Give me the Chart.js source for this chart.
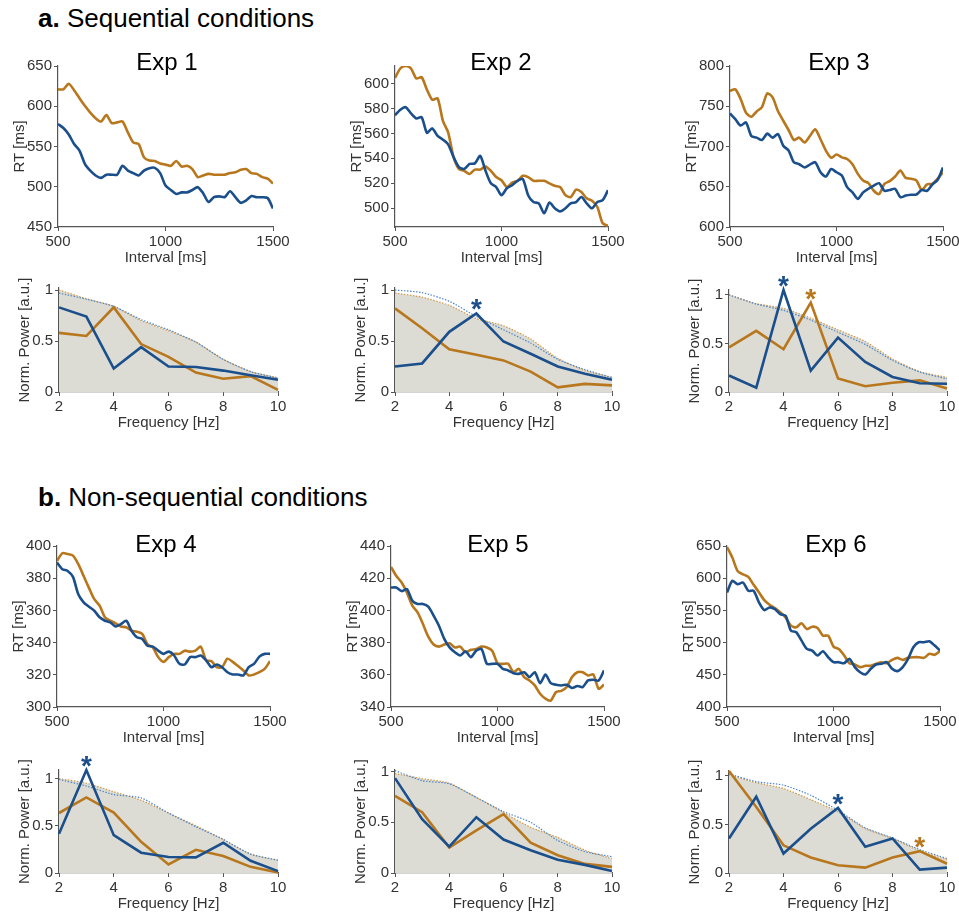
<!DOCTYPE html>
<html>
<head>
<meta charset="utf-8">
<script src="https://cdn.jsdelivr.net/npm/chart.js@4.4.0/dist/chart.umd.min.js"></script>
<style>
  body { margin: 0; background: #fff; width: 959px; height: 917px; position: relative; overflow: hidden;
         font-family: "Liberation Sans", Arial, Helvetica, sans-serif; color: #000; }
  .head { position: absolute; font-size: 26px; line-height: 32px; white-space: nowrap; }
  .exp { position: absolute; font-size: 24px; line-height: 1; transform: translate(-50%, -50%); white-space: nowrap; }
  canvas { position: absolute; }
</style>
</head>
<body>
<div class="head" style="left:38px;top:2px"><b>a.</b> Sequential conditions</div>
<div class="head" style="left:38px;top:481px"><b>b.</b> Non-sequential conditions</div>

<script>
// ---- data ----
const intervalMs = [500, 525, 550, 575, 600, 625, 650, 675, 700, 725, 750, 775, 800, 825, 850, 875, 900, 925, 950, 975,
  1000, 1025, 1050, 1075, 1100, 1125, 1150, 1175, 1200, 1225, 1250, 1275, 1300, 1325, 1350, 1375, 1400, 1425, 1450, 1475, 1500];
const freqHz = [2, 3, 4, 5, 6, 7, 8, 9, 10];

const expNames = ["Exp 1", "Exp 2", "Exp 3", "Exp 4", "Exp 5", "Exp 6"];

// RT curves (ms)
const exp1Blue = [578, 573, 565, 553, 545, 528.5, 520, 514, 511, 515, 515, 515, 526, 520, 517, 514, 520, 523, 523.5, 517,
  501.5, 496, 491, 493, 493, 496, 499.5, 492, 481, 487, 488, 487, 494.5, 487, 480, 483, 488.5, 487, 487, 486, 473];
const exp1Orange = [621, 621, 628, 620, 610, 600.5, 592, 585, 581, 589, 579, 580, 581, 567.5, 555, 553, 536.5, 532.5, 532, 529,
  527.5, 526, 532, 525, 526, 522, 512, 514, 516, 515, 515, 515, 517, 518, 521, 522, 517, 516, 512, 510, 504];
const exp2Blue = [574.5, 579, 581, 576, 572, 573, 560.5, 564, 558, 555, 551, 541, 533, 531.5, 535.5, 536, 542, 530, 520, 517,
  510.5, 516, 518.5, 522, 523.5, 510.5, 505, 504, 496, 504.5, 500, 497.5, 500, 504, 505, 509, 504, 500, 505, 506.5, 514.5];
const exp2Orange = [604.5, 612, 614, 612, 604, 605, 595, 587, 588, 570, 560.5, 541, 531.5, 530, 527.5, 531, 531, 533.5, 530, 525,
  522.4, 517, 520.5, 522, 526, 525, 522, 522, 522, 520, 518, 517, 510.5, 509, 515, 513, 508, 506, 501, 488, 486];
const exp3Blue = [741, 734, 726, 730, 713, 711, 708, 716, 711, 715.5, 701, 695, 680.4, 678, 674, 677.5, 680.5, 668, 662.7, 672,
  668, 664, 649.5, 643, 635, 643, 647.5, 651.5, 654.4, 645, 646, 647.5, 637, 639, 640, 640.4, 646, 645, 652.8, 658.7, 674];
const exp3Orange = [769, 771, 759, 742, 737, 743.5, 749, 766, 761, 744, 732, 720.5, 708, 711, 705, 713, 721.5, 709, 695, 686,
  690, 686.5, 684.5, 678, 666, 657.7, 654.5, 645, 641, 653.5, 657, 662.7, 670, 661, 660, 658, 646, 653, 653.6, 660, 668];
const exp4Blue = [389.7, 385.6, 384.5, 380.8, 370, 365, 362.3, 359.8, 355.7, 353.6, 352.6, 350, 351.5, 353.6, 347.4, 343.3, 342.3, 338, 337.5, 335,
  333, 334.4, 332, 326.8, 326.4, 331, 331, 332, 329, 324.7, 326.4, 324.7, 321.6, 320.2, 320.2, 319.6, 324.7, 326.8, 331.3, 333, 333];
const exp4Orange = [390.7, 395.5, 395, 394, 388.7, 381.4, 374, 367, 363, 355.7, 353.6, 352, 350, 349.5, 347.4, 346.8, 345.4, 339, 337, 331,
  328, 331, 333, 333, 335, 334.4, 335, 337.5, 329, 328.5, 324.7, 324.7, 330, 328, 325.4, 322.7, 319.6, 320.2, 321.6, 323.7, 328.5];
const exp5Blue = [414.2, 414.2, 412, 413.2, 406, 404, 404, 402.3, 396.8, 390.5, 382.3, 377, 374, 372, 374.6, 371, 375, 376, 366.8, 366.8,
  366.8, 363.7, 362.7, 361, 360.6, 361.6, 358.6, 361.6, 354.8, 360.2, 354.8, 353.8, 353.4, 353.8, 351.8, 353, 352.4, 356.5, 356.9, 356.5, 362.7];
const exp5Orange = [427, 421.4, 417.3, 411, 403, 398.8, 391.5, 383.7, 378.8, 377.5, 378.8, 379.6, 377, 377.5, 374, 375.5, 376, 377.5, 377, 375,
  367.2, 366.8, 366.8, 361.6, 363.7, 358.6, 356.5, 353.4, 348.2, 345.2, 344, 349.3, 350, 352.4, 358.6, 361.6, 361.6, 359.6, 360.2, 351.3, 354];
const exp6Blue = [577.8, 595.9, 590.7, 593.3, 580.4, 580.4, 562.4, 550.5, 554.6, 552, 544.3, 541.8, 518.6, 516, 503, 490.2, 487.6, 480, 486.6, 477.3,
  469.6, 469.6, 468, 474.7, 461.9, 454, 450.5, 459.3, 466, 467, 469.6, 459.3, 455.7, 461.9, 474.7, 492.8, 500.5, 500.5, 502, 495.4, 487.6];
const exp6Orange = [648.5, 632, 611, 606, 602, 589.7, 578, 566, 558.8, 553.6, 547, 539, 526.3, 523.7, 530, 521, 524.7, 522.7, 510.8, 510.8,
  493.8, 490, 480, 468, 466, 461.9, 464, 464, 467, 469.6, 468, 473.2, 476.3, 473.2, 476.3, 477.3, 477.3, 476.3, 482.5, 481, 486.6];

// normalised power spectra and surrogate thresholds (a.u.)
const exp1PowBlue = [0.83, 0.74, 0.23, 0.44, 0.25, 0.245, 0.21, 0.165, 0.12];
const exp1PowOrange = [0.58, 0.55, 0.83, 0.47, 0.345, 0.19, 0.13, 0.155, 0.02];
const exp1ThrBlue = [0.97, 0.91, 0.84, 0.71, 0.61, 0.49, 0.32, 0.2, 0.135];
const exp1ThrOrange = [1.0, 0.915, 0.84, 0.70, 0.60, 0.49, 0.32, 0.2, 0.14];

const exp2PowBlue = [0.25, 0.28, 0.59, 0.77, 0.495, 0.375, 0.25, 0.18, 0.12];
const exp2PowOrange = [0.82, 0.625, 0.42, 0.365, 0.31, 0.2, 0.045, 0.08, 0.065];
const exp2ThrBlue = [1.0, 0.975, 0.89, 0.74, 0.61, 0.48, 0.32, 0.22, 0.14];
const exp2ThrOrange = [0.97, 0.93, 0.85, 0.72, 0.65, 0.52, 0.33, 0.21, 0.145];

const exp3PowBlue = [0.17, 0.045, 1.05, 0.22, 0.56, 0.31, 0.155, 0.09, 0.085];
const exp3PowOrange = [0.46, 0.63, 0.44, 0.92, 0.14, 0.06, 0.095, 0.12, 0.035];
const exp3ThrBlue = [1.0, 0.905, 0.84, 0.74, 0.615, 0.49, 0.325, 0.205, 0.135];
const exp3ThrOrange = [1.0, 0.91, 0.86, 0.76, 0.64, 0.52, 0.34, 0.21, 0.15];

const exp4PowBlue = [0.415, 1.09, 0.40, 0.215, 0.17, 0.165, 0.32, 0.13, 0.02];
const exp4PowOrange = [0.635, 0.8, 0.64, 0.33, 0.09, 0.245, 0.18, 0.065, 0.005];
const exp4ThrBlue = [0.99, 0.92, 0.83, 0.795, 0.635, 0.49, 0.355, 0.2, 0.135];
const exp4ThrOrange = [1.0, 0.95, 0.86, 0.77, 0.635, 0.5, 0.355, 0.2, 0.135];

const exp5PowBlue = [0.935, 0.53, 0.26, 0.55, 0.33, 0.225, 0.13, 0.08, 0.02];
const exp5PowOrange = [0.76, 0.6, 0.25, 0.42, 0.58, 0.3, 0.175, 0.09, 0.06];
const exp5ThrBlue = [1.01, 0.91, 0.88, 0.745, 0.605, 0.5, 0.32, 0.21, 0.16];
const exp5ThrOrange = [0.98, 0.93, 0.885, 0.745, 0.595, 0.45, 0.35, 0.225, 0.14];

const exp6PowBlue = [0.355, 0.785, 0.2, 0.455, 0.67, 0.27, 0.355, 0.035, 0.055];
const exp6PowOrange = [1.05, 0.68, 0.285, 0.16, 0.08, 0.055, 0.16, 0.225, 0.095];
const exp6ThrBlue = [1.02, 0.94, 0.905, 0.8, 0.645, 0.465, 0.36, 0.24, 0.148];
const exp6ThrOrange = [1.01, 0.93, 0.87, 0.755, 0.63, 0.457, 0.355, 0.227, 0.137];

// significant peaks (Hz) marked with an asterisk
const starsBlue = [[], [5], [4], [3], [], [6]];
const starsOrange = [[], [], [5], [], [], [9]];

// axis ticks / ranges
const rtTicksX = [500, 1000, 1500];
const rtTicksY = [
  [450, 500, 550, 600, 650],
  [500, 520, 540, 560, 580, 600],
  [600, 650, 700, 750, 800],
  [300, 320, 340, 360, 380, 400],
  [340, 360, 380, 400, 420, 440],
  [400, 450, 500, 550, 600, 650]
];
const rtRangeY = [[450, 650], [485, 614], [600, 800], [300, 400], [340, 440], [400, 650]];
const freqTicksX = [2, 4, 6, 8, 10];
const powTicksY = [0, 0.5, 1];
const powMaxY = [1.02, 1.02, 1.05, 1.09, 1.015, 1.05];

// ---- styling / layout ----
const BLUE = "#1b4f8c", ORANGE = "#b8771c", FILL = "#dcdcd5";
const BLUE_DOT = "#4f86c9", ORANGE_DOT = "#d29a4c";
const AXW = 52, AXH = 40, PADR = 24;

// plot areas in page pixels
const rtBoxes = [
  { l: 58, t: 65, r: 273, b: 227 }, { l: 395, t: 65, r: 608, b: 227 }, { l: 730, t: 65, r: 943, b: 227 },
  { l: 57, t: 545, r: 270, b: 707 }, { l: 391, t: 545, r: 604, b: 707 }, { l: 727, t: 545, r: 940, b: 707 }
];
const powBoxes = [
  { l: 59, t: 288, r: 278, b: 392 }, { l: 395, t: 288, r: 612, b: 392 }, { l: 729, t: 290, r: 947, b: 392 },
  { l: 59, t: 770, r: 278, b: 873 }, { l: 395, t: 770, r: 612, b: 873 }, { l: 729, t: 771, r: 947, b: 873 }
];
const titlePos = [[167, 62], [501, 62], [839, 62], [166, 544], [498, 544], [836, 544]];

Chart.defaults.font.family = "'Liberation Sans', Arial, Helvetica, sans-serif";
Chart.defaults.color = "#333";
Chart.defaults.animation = false;

// rotated y-axis title (the built-in one gets squeezed to the plot height)
const yTitlePlugin = {
  id: "ytitle",
  afterDraw(chart, args, opts) {
    const { ctx, chartArea } = chart;
    ctx.save();
    ctx.font = "15px 'Liberation Sans', Arial, sans-serif";
    ctx.fillStyle = "#333";
    ctx.textAlign = "center";
    ctx.textBaseline = "middle";
    ctx.translate(chartArea.left - opts.dist, (chartArea.top + chartArea.bottom) / 2);
    ctx.rotate(-Math.PI / 2);
    ctx.fillText(opts.text, 0, 0);
    ctx.restore();
  }
};

// asterisks above significant peaks
const starPlugin = {
  id: "stars",
  afterDatasetsDraw(chart, args, opts) {
    if (!opts.items || !opts.items.length) return;
    const { ctx, scales } = chart;
    ctx.save();
    ctx.font = "bold 28px 'Liberation Sans', Arial, sans-serif";
    ctx.textAlign = "center";
    ctx.textBaseline = "alphabetic";
    opts.items.forEach((it) => {
      ctx.fillStyle = it.color;
      ctx.fillText("*", scales.x.getPixelForValue(it.hz), scales.y.getPixelForValue(it.value) + 5);
    });
    ctx.restore();
  }
};

function axis(min, max, ticks, title, horizontal) {
  return {
    type: "linear",
    min: min,
    max: max,
    afterBuildTicks: (s) => { s.ticks = ticks.map((v) => ({ value: v })); },
    afterFit: (s) => { if (horizontal) s.height = AXH; else s.width = AXW; },
    grid: { display: true, drawOnChartArea: false, drawTicks: true, tickLength: 4, color: "#555", lineWidth: 1 },
    border: { display: true, color: "#555", width: 1.2 },
    ticks: { padding: 2, color: "#333", font: { size: 15 }, autoSkip: false, maxRotation: 0, callback: (v) => String(v) },
    title: { display: !!title, text: title, color: "#333", font: { size: 15 }, padding: 0 }
  };
}

function makeCanvas(box, padTop) {
  const w = box.r - box.l + AXW + PADR;
  const h = box.b - box.t + padTop + AXH;
  const c = document.createElement("canvas");
  c.width = w;
  c.height = h;
  c.style.left = (box.l - AXW) + "px";
  c.style.top = (box.t - padTop) + "px";
  c.style.width = w + "px";
  c.style.height = h + "px";
  document.body.appendChild(c);
  return c;
}

function pts(xs, ys) {
  return xs.map((x, i) => ({ x: x, y: ys[i] }));
}

function rtChart(i, blue, orange) {
  const box = rtBoxes[i];
  const padTop = 10;
  new Chart(makeCanvas(box, padTop), {
    type: "line",
    data: {
      datasets: [
        { data: pts(intervalMs, blue), borderColor: BLUE, borderWidth: 2.6, pointRadius: 0, tension: 0.25, order: 1 },
        { data: pts(intervalMs, orange), borderColor: ORANGE, borderWidth: 2.6, pointRadius: 0, tension: 0.25, order: 2 }
      ]
    },
    options: {
      responsive: false,
      layout: { padding: { top: padTop, right: PADR, left: 0, bottom: 0 } },
      scales: {
        x: axis(500, 1500, rtTicksX, "Interval [ms]", true),
        y: axis(rtRangeY[i][0], rtRangeY[i][1], rtTicksY[i], "", false)
      },
      plugins: {
        legend: { display: false },
        tooltip: { enabled: false },
        ytitle: { text: "RT [ms]", dist: 38.5 }
      }
    },
    plugins: [yTitlePlugin]
  });
}

function powChart(i, blue, orange, thrBlue, thrOrange) {
  const box = powBoxes[i];
  const padTop = 30;
  const stars = starsBlue[i].map((hz) => ({ hz: hz, value: blue[freqHz.indexOf(hz)], color: BLUE }))
    .concat(starsOrange[i].map((hz) => ({ hz: hz, value: orange[freqHz.indexOf(hz)], color: ORANGE })));
  new Chart(makeCanvas(box, padTop), {
    type: "line",
    data: {
      datasets: [
        { data: pts(freqHz, blue), borderColor: BLUE, borderWidth: 2.6, pointRadius: 0, tension: 0, order: 1, clip: false },
        { data: pts(freqHz, orange), borderColor: ORANGE, borderWidth: 2.6, pointRadius: 0, tension: 0, order: 2, clip: false },
        { data: pts(freqHz, thrBlue), borderColor: BLUE_DOT, borderWidth: 1.2, borderDash: [1.5, 1.5], pointRadius: 0, tension: 0.2, order: 3 },
        { data: pts(freqHz, thrOrange), borderColor: ORANGE_DOT, borderWidth: 1.2, borderDash: [1.5, 1.5], pointRadius: 0, tension: 0.2, order: 4,
          fill: "origin", backgroundColor: FILL }
      ]
    },
    options: {
      responsive: false,
      layout: { padding: { top: padTop, right: PADR, left: 0, bottom: 0 } },
      scales: {
        x: axis(2, 10, freqTicksX, "Frequency [Hz]", true),
        y: axis(0, powMaxY[i], powTicksY, "", false)
      },
      plugins: {
        legend: { display: false },
        tooltip: { enabled: false },
        filler: { propagate: false },
        ytitle: { text: "Norm. Power [a.u.]", dist: 34.5 },
        stars: { items: stars }
      }
    },
    plugins: [yTitlePlugin, starPlugin]
  });
}

rtChart(0, exp1Blue, exp1Orange);
rtChart(1, exp2Blue, exp2Orange);
rtChart(2, exp3Blue, exp3Orange);
rtChart(3, exp4Blue, exp4Orange);
rtChart(4, exp5Blue, exp5Orange);
rtChart(5, exp6Blue, exp6Orange);

powChart(0, exp1PowBlue, exp1PowOrange, exp1ThrBlue, exp1ThrOrange);
powChart(1, exp2PowBlue, exp2PowOrange, exp2ThrBlue, exp2ThrOrange);
powChart(2, exp3PowBlue, exp3PowOrange, exp3ThrBlue, exp3ThrOrange);
powChart(3, exp4PowBlue, exp4PowOrange, exp4ThrBlue, exp4ThrOrange);
powChart(4, exp5PowBlue, exp5PowOrange, exp5ThrBlue, exp5ThrOrange);
powChart(5, exp6PowBlue, exp6PowOrange, exp6ThrBlue, exp6ThrOrange);

// panel titles
expNames.forEach((name, i) => {
  const d = document.createElement("div");
  d.className = "exp";
  d.textContent = name;
  d.style.left = titlePos[i][0] + "px";
  d.style.top = titlePos[i][1] + "px";
  document.body.appendChild(d);
});
</script>
</body>
</html>
